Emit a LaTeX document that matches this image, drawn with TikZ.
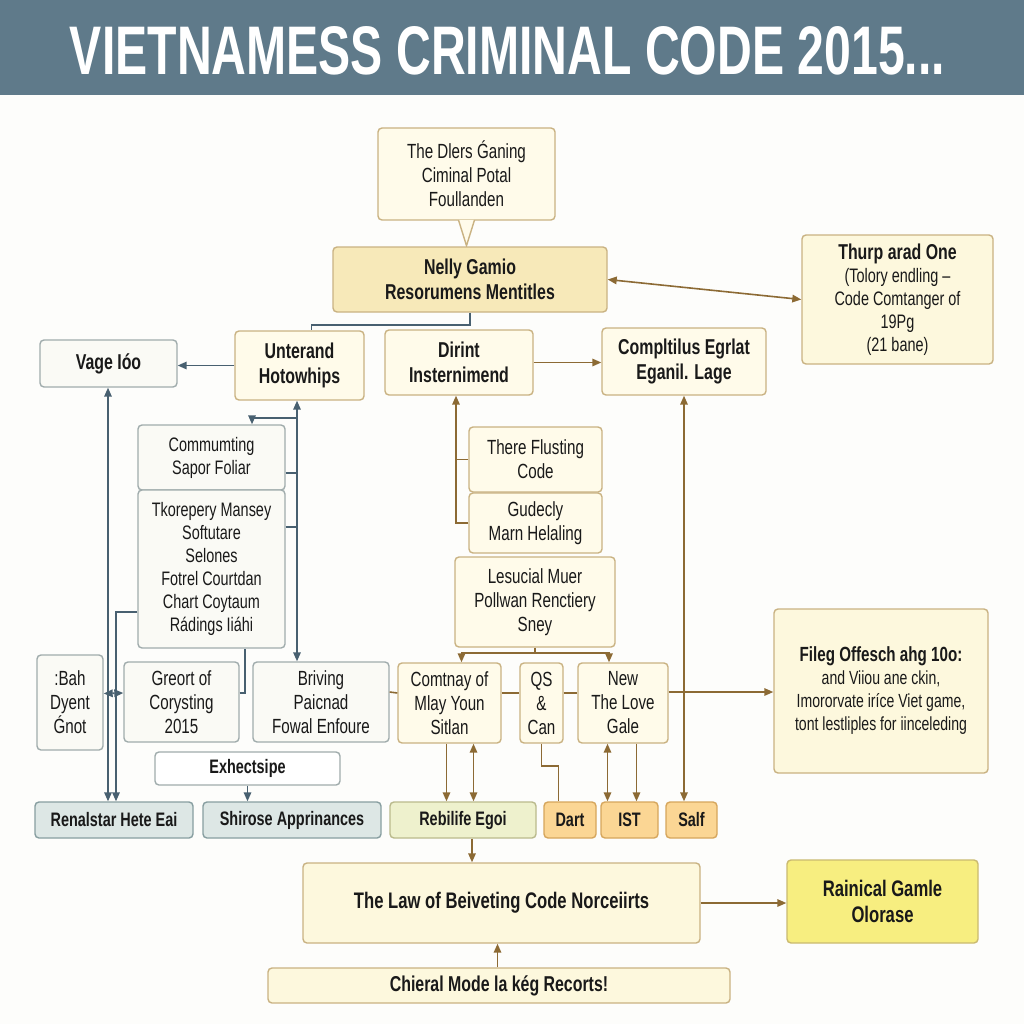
\documentclass[tikz,border=0pt]{standalone}
\usepackage{graphicx}
\usepackage{fontspec}
\setmainfont{Liberation Sans}[FakeStretch=0.74]
\usetikzlibrary{arrows.meta}
\definecolor{txt}{RGB}{25,25,25}
\definecolor{band}{RGB}{95,122,138}
\definecolor{pagebg}{RGB}{253,253,251}
\definecolor{tanb}{RGB}{201,178,130}
\definecolor{cream}{RGB}{255,251,234}
\definecolor{creamB}{RGB}{247,233,185}
\definecolor{lawF}{RGB}{253,248,221}
\definecolor{grayb}{RGB}{160,172,172}
\definecolor{grayf}{RGB}{250,250,245}
\definecolor{tealF}{RGB}{221,231,229}
\definecolor{tealB}{RGB}{135,158,160}
\definecolor{rebF}{RGB}{238,241,205}
\definecolor{rebB}{RGB}{186,186,140}
\definecolor{orF}{RGB}{251,214,148}
\definecolor{orB}{RGB}{214,166,92}
\definecolor{rainF}{RGB}{247,238,128}
\definecolor{rainB}{RGB}{202,186,112}
\definecolor{bgc}{RGB}{72,96,112}
\definecolor{brc}{RGB}{140,106,52}
\tikzset{
  base/.style={draw, rounded corners=4pt, line width=1.4pt, align=center, inner sep=2pt, text=txt},
  tanbox/.style={base, draw=tanb, fill=cream},
  graybox/.style={base, draw=grayb, fill=grayf},
  tealbox/.style={base, draw=tealB, fill=tealF},
  rebbox/.style={base, draw=rebB, fill=rebF},
  orbox/.style={base, draw=orB, fill=orF},
  rainbox/.style={base, draw=rainB, fill=rainF},
  f17/.style={font=\fontsize{19}{23}\selectfont},
  f18/.style={font=\fontsize{19.5}{23}\selectfont},
  f19/.style={font=\fontsize{20.5}{24}\selectfont},
  fb18/.style={font=\fontsize{19.5}{23}\selectfont\bfseries},
  fb20/.style={font=\fontsize{21.5}{25}\selectfont\bfseries},
  fb21/.style={font=\fontsize{22.5}{26}\selectfont\bfseries},
  bconn/.style={draw=bgc, line width=1.6pt},
  brconn/.style={draw=brc, line width=1.6pt},
  >={Triangle[length=9pt,width=7.5pt]}
}
\newcommand\mybox[7]{\node[#6, minimum width={#4pt-#2pt}, minimum height={#5pt-#3pt}] (#1) at ({(#2+#4)/2},{(#3+#5)/2}) {#7};}
\begin{document}
\begin{tikzpicture}[x=1pt,y=-1pt]
\useasboundingbox (0,0) rectangle (1024,1024);
\fill[pagebg] (0,0) rectangle (1024,1024);
\fill[band] (0,0) rectangle (1024,95);
\node[inner sep=0pt, text=white] (title) at (507.5,50.5) {\resizebox{875pt}{48pt}{\bfseries VIETNAMESS CRIMINAL CODE 2015...}};

% boxes
\mybox{A}{378}{128}{555}{220}{tanbox,f19}{The Dlers Ǵaning\\Ciminal Potal\\Foullanden}
\draw[draw=tanb, line width=1.4pt, fill=cream] ([xshift=-8pt,yshift=0.7pt]A.south) -- ([yshift=-25pt]A.south) -- ([xshift=8pt,yshift=0.7pt]A.south);
\mybox{B}{333}{247}{607}{312}{tanbox,fill=creamB,fb20}{Nelly Gamio\\Resorumens Mentitles}
\mybox{Th}{802}{235}{993}{364}{tanbox,fill=lawF,f18}{{\fontsize{21.5}{25}\selectfont\bfseries Thurp arad One}\\(Tolory endling –\\Code Comtanger of\\19Pg\\(21 bane)}
\mybox{Vage}{40}{340}{177}{387}{graybox,fb20}{Vage Ióo}
\mybox{Unt}{235}{331}{364}{400}{tanbox,fb20}{Unterand\\Hotowhips}
\mybox{Dir}{385}{330}{533}{395}{tanbox,fb20}{Dirint\\Insternimend}
\mybox{Comp}{602}{328}{766}{395}{tanbox,fb20}{Compltilus Egrlat\\Eganil. Lage}
\mybox{Comm}{138}{425}{285}{490}{graybox,f18}{Commumting\\Sapor Foliar}
\mybox{Tko}{138}{490}{285}{648}{graybox,f18}{Tkorepery Mansey\\Softutare\\Selones\\Fotrel Courtdan\\Chart Coytaum\\Rádings Iiáhi}
\mybox{There}{469}{427}{602}{492}{tanbox,f19}{There Flusting\\Code}
\mybox{Gud}{469}{493}{602}{553}{tanbox,f19}{Gudecly\\Marn Helaling}
\mybox{Les}{455}{557}{615}{647}{tanbox,f19}{Lesucial Muer\\Pollwan Renctiery\\Sney}
\mybox{Bah}{37}{655}{103}{750}{graybox,f19}{:Bah\\Dyent\\Ǵnot}
\mybox{Gre}{124}{662}{239}{742}{graybox,f19}{Greort of\\Corysting\\2015}
\mybox{Briv}{253}{662}{389}{742}{graybox,f19}{Briving\\Paicnad\\Fowal Enfoure}
\mybox{Com}{398}{663}{501}{743}{tanbox,f19}{Comtnay of\\Mlay Youn\\Sitlan}
\mybox{QS}{520}{663}{563}{743}{tanbox,f19}{QS\\\&\\Can}
\mybox{New}{578}{663}{668}{743}{tanbox,f19}{New\\The Love\\Gale}
\mybox{Fil}{774}{609}{988}{773}{tanbox,fill=lawF,f17}{{\fontsize{20.5}{24}\selectfont\bfseries Fileg Offesch ahg 10o:}\\and Viiou ane ckin,\\Imororvate iríce Viet game,\\tont lestliples for iinceleding}
\mybox{Exh}{155}{752}{340}{785}{graybox,fill=white,fb18}{Exhectsipe}
\mybox{Ren}{35}{802}{193}{838}{tealbox,fb18}{Renalstar Hete Eai}
\mybox{Shi}{203}{802}{381}{838}{tealbox,fb18}{Shirose Apprinances}
\mybox{Reb}{390}{802}{536}{838}{rebbox,fb18}{Rebilife Egoi}
\mybox{Dart}{544}{802}{596}{838}{orbox,fb18}{Dart}
\mybox{IST}{601}{802}{658}{838}{orbox,fb18}{IST}
\mybox{Salf}{666}{802}{717}{838}{orbox,fb18}{Salf}
\mybox{Law}{303}{863}{700}{943}{tanbox,fill=lawF,fb21}{The Law of Beiveting Code Norceiirts}
\mybox{Rain}{787}{860}{978}{943}{rainbox,fb21}{Rainical Gamle\\Olorase}
\mybox{Chi}{268}{968}{730}{1003}{tanbox,fill=lawF,fb20}{Chieral Mode la kég Recorts!}

% named coordinates for vertical runs
\coordinate (vA) at (108,0);
\coordinate (vB) at (116,0);
\coordinate (vC) at (297,0);
\coordinate (vD) at (456,0);

% blue-gray connectors
\draw[bconn] (B.south) -- ++(0,12) -| ([xshift=12pt]Unt.north);
\draw[bconn,->] (Unt.west) -- (Unt.west -| Vage.east);
\draw[bconn,<->] (Vage.south -| vA) -- (Ren.north -| vA);
\draw[bconn,->] ([yshift=-43pt]Tko.west) -| (vB |- Ren.north);
\draw[bconn,<->] (Unt.south -| vC) -- (Briv.north -| vC);
\draw[bconn] ([yshift=-15.5pt]Comm.east) -- ++(12,0);
\draw[bconn] ([yshift=42pt]Tko.east) -- ++(12,0);
\draw[bconn,->] ([yshift=-17pt]Unt.south -| vC) -| ([xshift=40.5pt]Comm.north);
\draw[bconn] ([yshift=9pt]Gre.east) -| ([xshift=33.5pt]Tko.south);
\draw[bconn,<->] ([yshift=9pt]Bah.east) -- ([yshift=9pt]Gre.west);
\draw[bconn,->] (Exh.south) -- (Exh.south |- Shi.north);

% brown connectors
\draw[brconn,<->] (B.east) -- (Th.west);
\draw[brconn,->] (Dir.east) -- (Dir.east -| Comp.west);
\draw[brconn] (There.west) -- (There.west -| vD);
\draw[brconn,->] (Gud.west) -| (Dir.south -| vD);
\draw[brconn,->] ([yshift=-5pt]Les.south) -| ([xshift=12pt]Com.north);
\draw[brconn,->] ([yshift=-5pt]Les.south) -| ([xshift=-14pt]New.north);
\draw[brconn] (Les.south) -- ([yshift=-5pt]Les.south);
\draw[brconn] ([yshift=10pt]Briv.east) -- ([yshift=10pt]Com.west);
\draw[brconn] ([yshift=10pt]Com.east) -- ([yshift=10pt]QS.west);
\draw[brconn] ([yshift=10pt]QS.east) -- ([yshift=10pt]New.west);
\draw[brconn,->] ([yshift=11pt]New.east) -- ([yshift=11pt]New.east -| Fil.west);
\draw[brconn,<->] (Comp.south) -- (Comp.south |- Salf.north);
\draw[brconn,->] ([xshift=-3pt]Com.south) -- ([xshift=-3pt]Com.south |- Reb.north);
\draw[brconn,<->] ([xshift=24pt]Com.south) -- ([xshift=24pt]Com.south |- Reb.north);
\draw[brconn] (QS.south) -- ++(0,22) -| ([xshift=-11.5pt]Dart.north);
\draw[brconn,<->] ([xshift=-15.5pt]New.south) -- ([xshift=-15.5pt]New.south |- IST.north);
\draw[brconn,->] ([xshift=13.5pt]New.south) -- ([xshift=13.5pt]New.south |- IST.north);
\draw[brconn,->] ([xshift=9pt]Reb.south) -- ([xshift=9pt]Reb.south |- Law.north);
\draw[brconn,->] (Law.east) -- (Law.east -| Rain.west);
\draw[brconn,->] ([xshift=-1.5pt]Chi.north) -- ([xshift=-1.5pt]Chi.north |- Law.south);
\end{tikzpicture}
\end{document}
